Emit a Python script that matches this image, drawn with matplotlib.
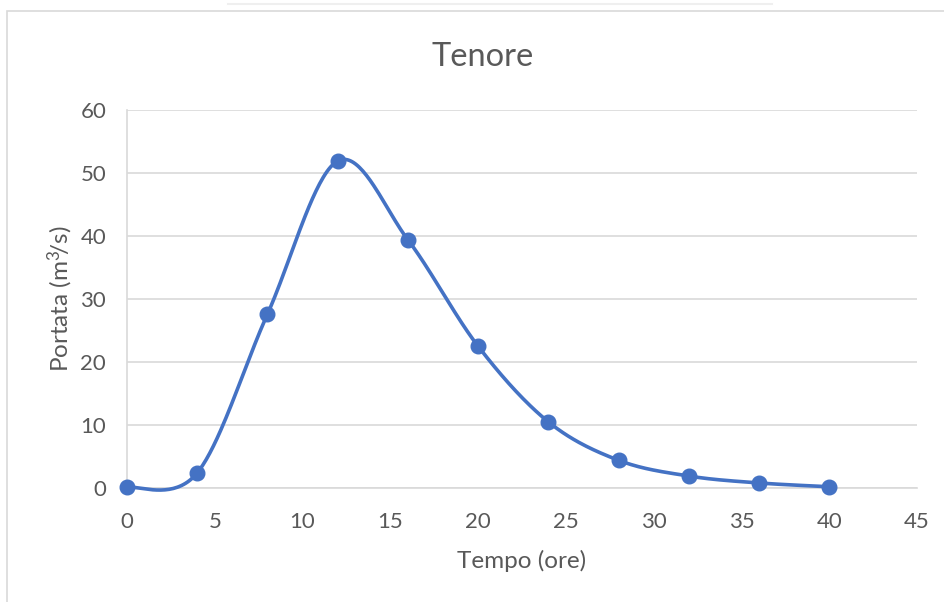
import numpy as np
import matplotlib.pyplot as plt
from matplotlib.patches import Rectangle
from matplotlib.lines import Line2D

# Tenore hydrograph
tempo = [0, 4, 8, 12, 16, 20, 24, 28, 32, 36, 40]
portata = [0.1, 2.4, 27.6, 51.9, 39.4, 22.5, 10.5, 4.4, 1.9, 0.8, 0.2]

COLOR = "#4472C4"
GRID = "#d9d9d9"
TEXT = "#595959"

plt.rcParams["font.family"] = ["Lato", "DejaVu Sans"]
plt.rcParams["mathtext.fontset"] = "custom"
plt.rcParams["mathtext.rm"] = "Lato"
plt.rcParams["mathtext.default"] = "rm"


# Excel-like smoothed line (cubic Bezier, Catmull-Rom control points)
def smooth(x, y, n=40):
    p = np.column_stack([x, y]).astype(float)
    out = []
    for i in range(len(p) - 1):
        p0 = p[i - 1] if i > 0 else p[i]
        p1, p2 = p[i], p[i + 1]
        p3 = p[i + 2] if i + 2 < len(p) else p[i + 1]
        c1 = p1 + (p2 - p0) / 6
        c2 = p2 - (p3 - p1) / 6
        t = np.linspace(0, 1, n)[:, None]
        seg = (1 - t) ** 3 * p1 + 3 * (1 - t) ** 2 * t * c1 + 3 * (1 - t) * t ** 2 * c2 + t ** 3 * p2
        out.append(seg if i == 0 else seg[1:])
    seg = np.vstack(out)
    return seg[:, 0], seg[:, 1]


fig = plt.figure(figsize=(9.45, 6.02), dpi=100)
ax = fig.add_axes([127 / 945, 1 - 488 / 602, 790 / 945, 378 / 602])

xs, ys = smooth(tempo, portata)
ax.plot(xs, ys, color=COLOR, linewidth=2.6, solid_capstyle="round", zorder=3, clip_on=False)
ax.plot(tempo, portata, "o", color=COLOR, markersize=10.5, zorder=4, clip_on=False)

ax.set_xlim(0, 45)
ax.set_ylim(0, 60)
ax.set_xticks(range(0, 46, 5))
ax.set_yticks(range(0, 61, 10))
ax.grid(axis="y", color=GRID, linewidth=1.2)
ax.set_axisbelow(True)
for s in ["top", "right"]:
    ax.spines[s].set_visible(False)
for s in ["left", "bottom"]:
    ax.spines[s].set_color(GRID)
    ax.spines[s].set_linewidth(1.2)
ax.tick_params(length=0, labelsize=16, labelcolor=TEXT)
ax.tick_params(axis="x", pad=17)
ax.tick_params(axis="y", pad=15)

ax.set_xlabel("Tempo (ore)", fontsize=17.5, color=TEXT, labelpad=13)
ax.set_ylabel(r"Portata (m$^{3}\!$/s)", fontsize=17.5, color=TEXT, labelpad=4)
fig.text(483 / 945, 1 - 57 / 602, "Tenore", fontsize=23.5, color=TEXT, ha="center", va="center")

# chart frame
fig.add_artist(Rectangle((7 / 945, -0.1), 1.2, 1 - 11 / 602 + 0.1, transform=fig.transFigure,
                         fill=False, edgecolor=GRID, linewidth=1.2))
fig.add_artist(Line2D([228 / 945, 772 / 945], [1 - 4 / 602, 1 - 4 / 602], transform=fig.transFigure,
                      color="#efefef", linewidth=1.5))

fig.savefig("out.png", dpi=100)
